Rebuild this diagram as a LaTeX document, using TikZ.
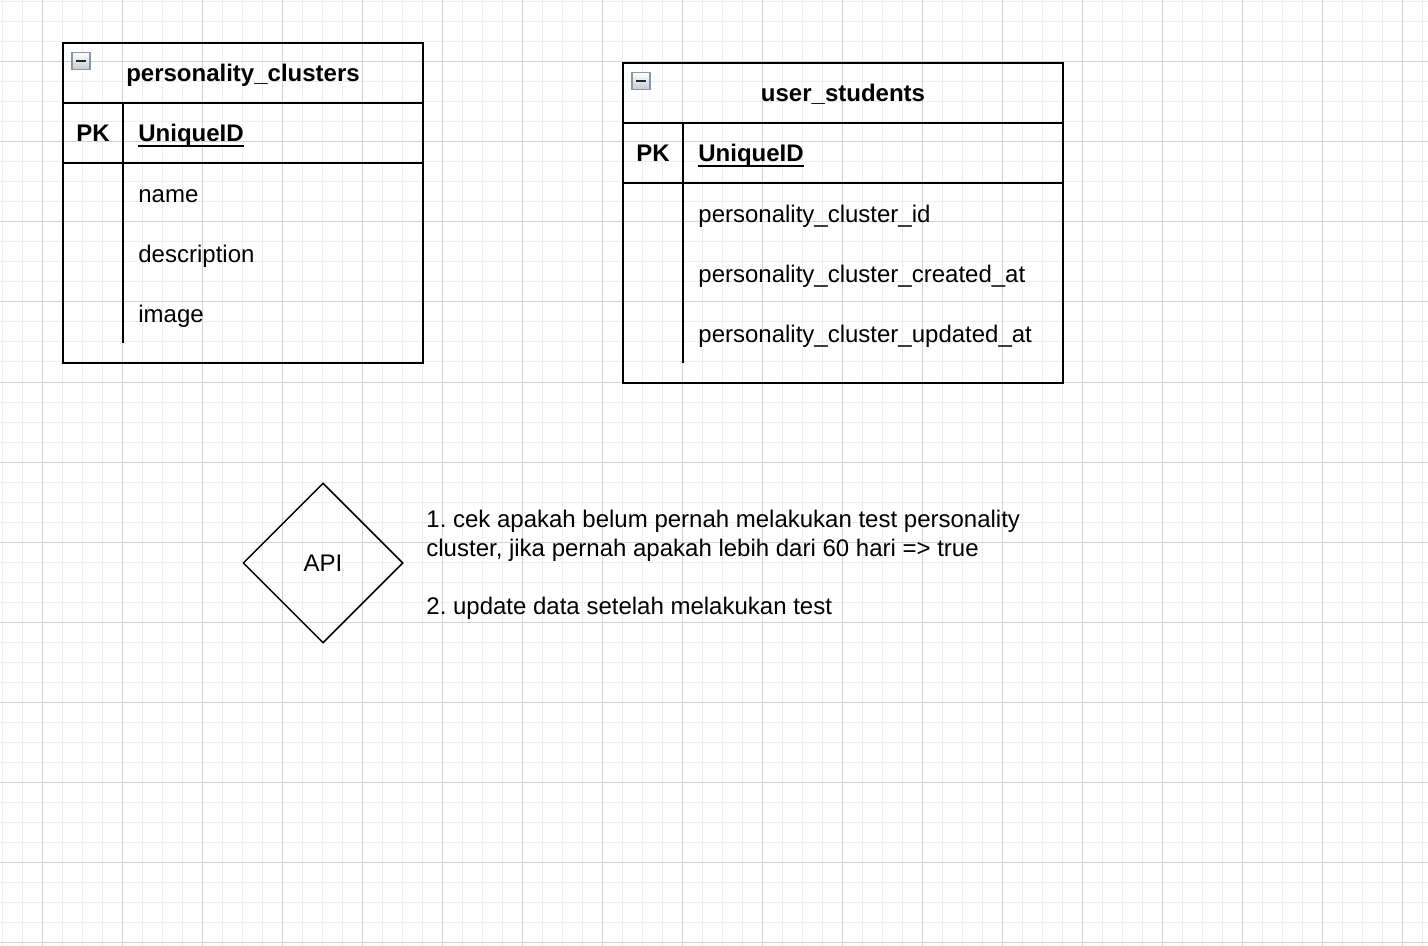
\documentclass[tikz,border=0pt]{standalone}
\usepackage{fontspec}
\setmainfont{Liberation Sans}
\usetikzlibrary{positioning,shapes.geometric,calc}
\definecolor{minorColor}{HTML}{EEEEEE}
\definecolor{majorColor}{HTML}{D2D2D2}
\definecolor{iconColor}{HTML}{8C95A6}
\frenchspacing
\tikzset{
	tbl/.style={draw, line width=1pt, rectangle, inner sep=0, outer sep=0},
	tblline/.style={line width=1pt},
	row/.style={anchor=base west, inner sep=0, font=\fontsize{12}{14.5}\selectfont},
	hdr/.style={anchor=base, inner sep=0, font=\fontsize{12}{14.5}\selectfont\bfseries},
	icon/.style={draw=iconColor, line width=0.6pt, top color=white, bottom color=iconColor!50,
		minimum width=9pt, minimum height=8.5pt, inner sep=0,
		path picture={\draw[line width=1pt, black!85]
			([xshift=-2.6pt]path picture bounding box.center) -- ([xshift=2.6pt]path picture bounding box.center);}}
}
\newsavebox{\keybox}
\newcommand{\pkey}[1]{\sbox{\keybox}{\textbf{#1}}\rlap{\usebox{\keybox}}\rule[-2.4pt]{\wd\keybox}{0.9pt}}

\begin{document}
\begin{tikzpicture}[x=0.5pt, y=-0.5pt]
	\useasboundingbox (0,0) rectangle (1428,946);
	\foreach \x in {2,22,...,1422} \draw[minorColor, line width=0.5pt] (\x,0) -- (\x,946);
	\foreach \y in {2,22,...,942} \draw[minorColor, line width=0.5pt] (0,\y) -- (1428,\y);
	\foreach \x in {42,122,...,1402} \draw[majorColor, line width=0.5pt] (\x,0) -- (\x,946);
	\foreach \y in {62,142,...,942} \draw[majorColor, line width=0.5pt] (0,\y) -- (1428,\y);

	\node[tbl, minimum width=180pt, minimum height=160pt] (pc) at (243,203) {};
	\node[icon] (pc icon) at (81,61) {};
	\node[hdr] (pc title) at (243,82) {personality\_clusters};
	\draw[tblline] ($(pc.north west)+(0,60)$) -- ($(pc.north east)+(0,60)$);
	\draw[tblline] ($(pc.north west)+(0,120)$) -- ($(pc.north east)+(0,120)$);
	\draw[tblline] ($(pc.north west)+(60,60)$) -- ($(pc.south west)+(60,-20)$);
	\node[hdr] (pc pk) at (93,142) {PK};
	\node[row] (pc id) at (138,142) {\pkey{UniqueID}};
	\node[row] (pc name) at (138,203) {name};
	\node[row] (pc desc) at (138,263) {description};
	\node[row] (pc image) at (138,323) {image};

	\node[tbl, minimum width=220pt, minimum height=160pt] (us) at (843,223) {};
	\node[icon] (us icon) at (641,81) {};
	\node[hdr] (us title) at (843,102) {user\_students};
	\draw[tblline] ($(us.north west)+(0,60)$) -- ($(us.north east)+(0,60)$);
	\draw[tblline] ($(us.north west)+(0,120)$) -- ($(us.north east)+(0,120)$);
	\draw[tblline] ($(us.north west)+(60,60)$) -- ($(us.south west)+(60,-20)$);
	\node[hdr] (us pk) at (653,162) {PK};
	\node[row] (us id) at (698,162) {\pkey{UniqueID}};
	\node[row] (us cid) at (698,223) {personality\_cluster\_id};
	\node[row] (us created) at (698,283) {personality\_cluster\_created\_at};
	\node[row] (us updated) at (698,343) {personality\_cluster\_updated\_at};

	\node[draw, diamond, line width=0.75pt, minimum width=80pt, minimum height=80pt, inner sep=0,
		font=\fontsize{12}{14.5}\selectfont] (api) at (323,563) {API};
	\node[row] (note1) at (426,527) {1. cek apakah belum pernah melakukan test personality};
	\node[row] (note2) at (426,556) {cluster, jika pernah apakah lebih dari 60 hari => true};
	\node[row] (note3) at (426,614) {2. update data setelah melakukan test};
\end{tikzpicture}
\end{document}
